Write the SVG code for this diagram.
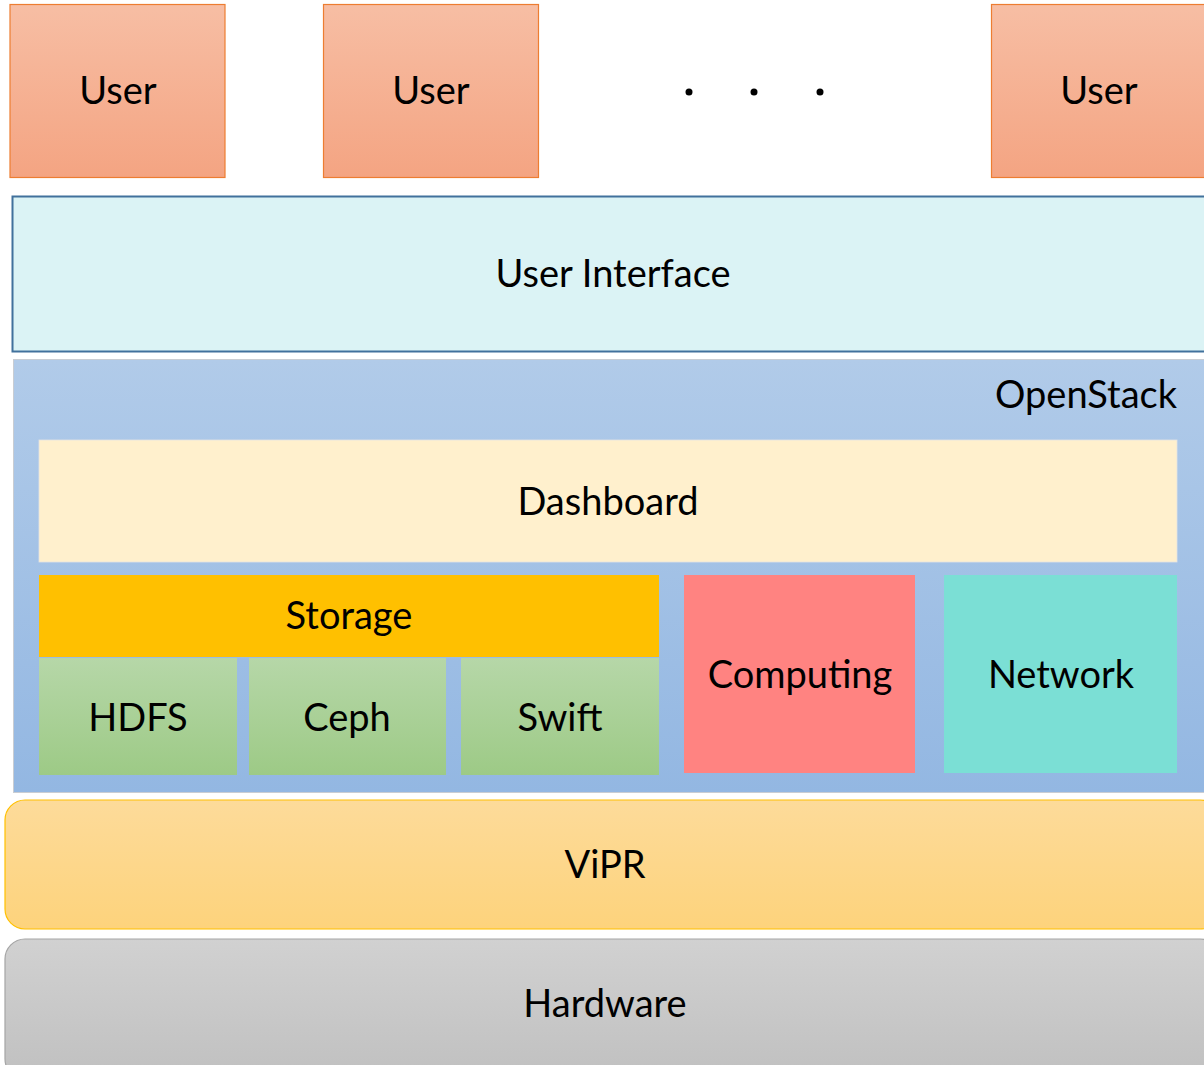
<svg xmlns="http://www.w3.org/2000/svg" width="1204" height="1065" viewBox="0 0 1204 1065">
<defs>
<linearGradient id="gUser" x1="0" y1="0" x2="0" y2="1"><stop offset="0" stop-color="#F7BEA4"/><stop offset="1" stop-color="#F4A482"/></linearGradient>
<linearGradient id="gOS" x1="0" y1="0" x2="0" y2="1"><stop offset="0" stop-color="#B1CBE9"/><stop offset="1" stop-color="#93B7E2"/></linearGradient>
<linearGradient id="gGreen" x1="0" y1="0" x2="0" y2="1"><stop offset="0" stop-color="#B6D7A8"/><stop offset="1" stop-color="#9DCA86"/></linearGradient>
<linearGradient id="gVipr" x1="0" y1="0" x2="0" y2="1"><stop offset="0" stop-color="#FDDB9A"/><stop offset="1" stop-color="#FDD37C"/></linearGradient>
<linearGradient id="gHw" x1="0" y1="0" x2="0" y2="1"><stop offset="0" stop-color="#D1D1D1"/><stop offset="1" stop-color="#C0C0C0"/></linearGradient>
</defs>
<style>
text{font-family:Lato,"Open Sans","Liberation Sans",sans-serif;font-size:38px;fill:#000;text-anchor:middle}
.user{fill:url(#gUser);stroke:#ED7D31;stroke-width:1.2}
.green{fill:url(#gGreen)}
</style>
<rect width="1204" height="1065" fill="#FFFFFF"/>
<g id="user1"><rect class="user" x="10" y="4.5" width="215" height="173"/><text x="118" y="104">User</text></g>
<g id="user2"><rect class="user" x="323.5" y="4.5" width="215" height="173"/><text x="431" y="104">User</text></g>
<g id="dots"><circle cx="689" cy="92" r="3.5" fill="#000"/><circle cx="754" cy="92" r="3.5" fill="#000"/><circle cx="820" cy="92" r="3.5" fill="#000"/></g>
<g id="user3"><rect class="user" x="991.5" y="4.5" width="220" height="173"/><text x="1099" y="104">User</text></g>
<g id="ui"><rect x="12.5" y="196.5" width="1200" height="155" fill="#DBF3F5" stroke="#41719C" stroke-width="2"/><text x="613" y="287">User Interface</text></g>
<g id="openstack"><rect x="13.5" y="359.5" width="1200" height="433" fill="url(#gOS)" stroke="#C9CDD3" stroke-width="1"/><text x="1177" y="408" style="text-anchor:end">OpenStack</text></g>
<g id="dashboard"><rect x="39" y="440" width="1138" height="122" fill="#FFF0CD" stroke="#E3E3E3" stroke-width="0.8"/><text x="608" y="515">Dashboard</text></g>
<g id="storage"><rect x="39" y="575" width="620" height="82" fill="#FFC000"/><text x="349" y="629">Storage</text></g>
<g id="hdfs"><rect class="green" x="39" y="658" width="198" height="117"/><text x="138" y="731">HDFS</text></g>
<g id="ceph"><rect class="green" x="249" y="658" width="197" height="117"/><text x="347" y="731">Ceph</text></g>
<g id="swift"><rect class="green" x="461" y="658" width="198" height="117"/><text x="560" y="731">Swift</text></g>
<g id="computing"><rect x="684" y="575" width="231" height="198" fill="#FF8381"/><text x="800" y="688">Computing</text></g>
<g id="network"><rect x="944" y="575" width="233" height="198" fill="#7BDFD5"/><text x="1061" y="688">Network</text></g>
<g id="vipr"><rect x="5" y="800" width="1215" height="129" rx="20" fill="url(#gVipr)" stroke="#FFC000" stroke-width="1.2"/><text x="605" y="878">ViPR</text></g>
<g id="hardware"><rect x="5" y="939" width="1215" height="140" rx="20" fill="url(#gHw)" stroke="#A5A5A5" stroke-width="1.2"/><text x="605" y="1017">Hardware</text></g>
<g id="connectors"></g>
</svg>
